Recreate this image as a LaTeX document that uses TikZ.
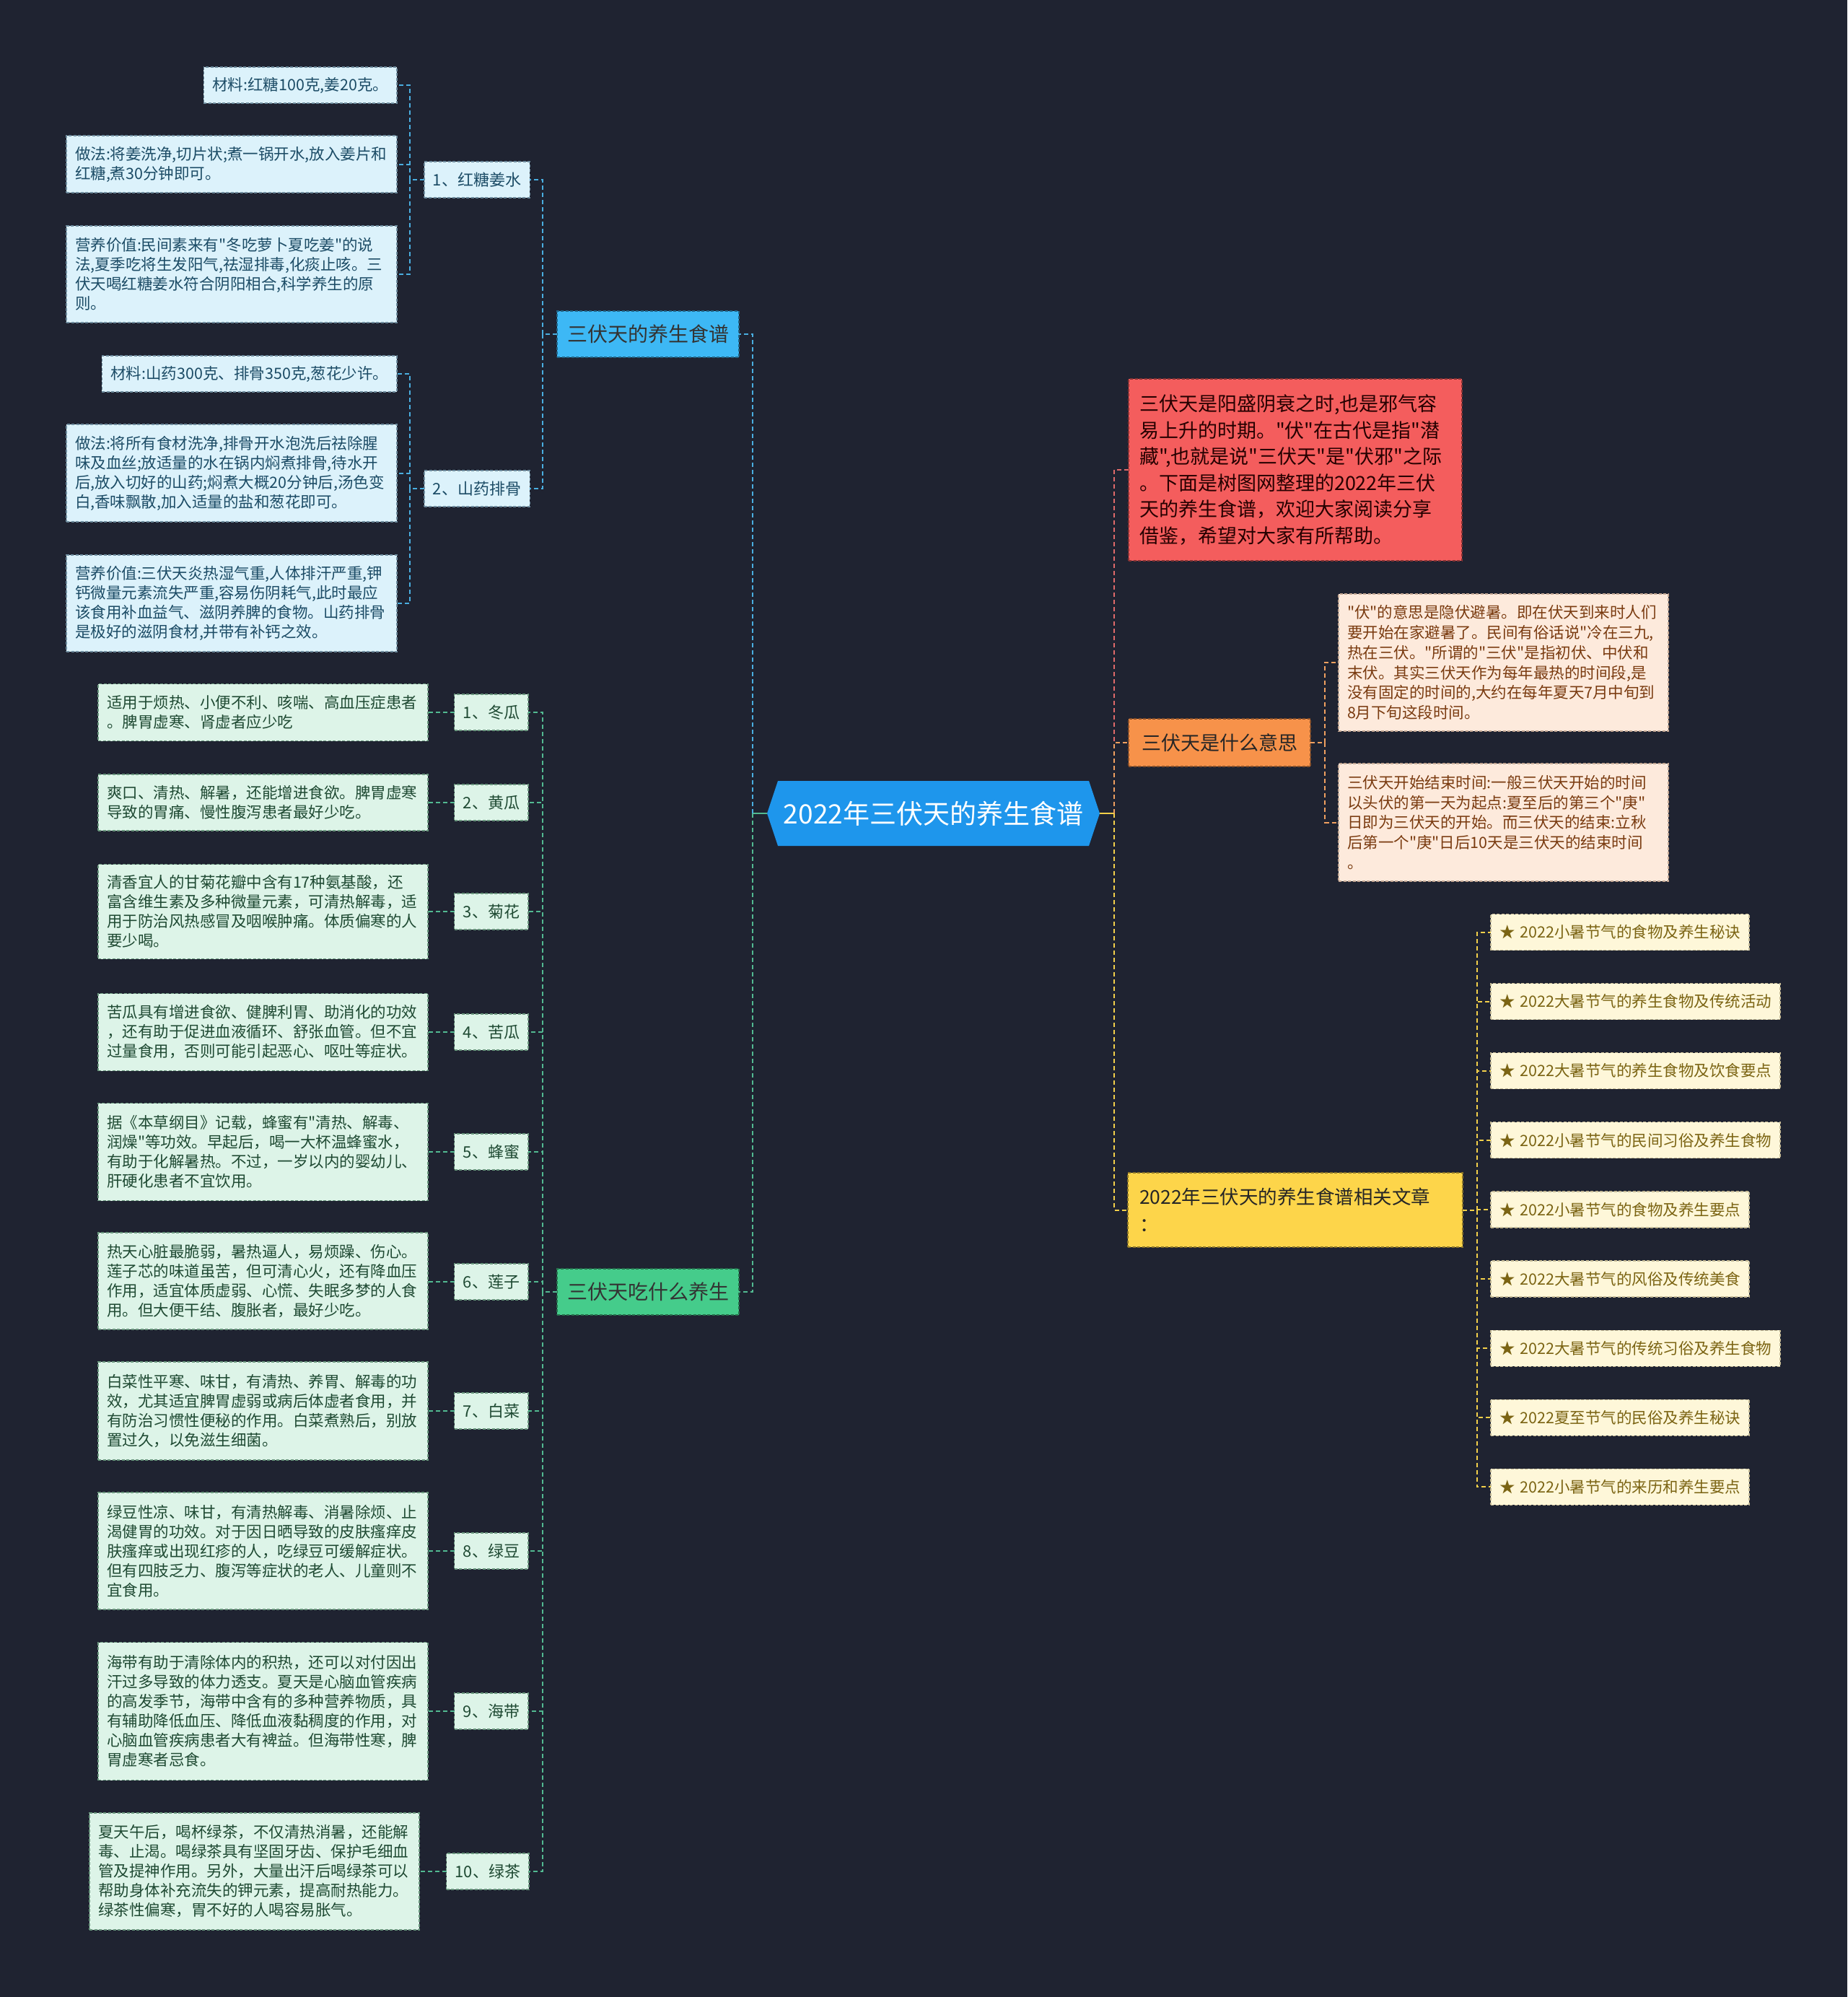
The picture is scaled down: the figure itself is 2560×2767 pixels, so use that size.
\documentclass[tikz,border=0pt]{standalone}
\usepackage{fontspec}
\setmainfont{Noto Sans CJK SC}[Ligatures=TeXOff]
\usetikzlibrary{positioning,backgrounds}
\definecolor{bgdark}{RGB}{31,35,49}
\definecolor{rootblue}{RGB}{30,150,236}
\definecolor{catblue}{RGB}{61,184,245}
\definecolor{leafblue}{RGB}{220,242,251}
\definecolor{leafbluetext}{RGB}{28,76,102}
\definecolor{leafblueline}{RGB}{110,140,158}
\definecolor{linkblue}{RGB}{74,174,224}
\definecolor{catgreen}{RGB}{69,204,139}
\definecolor{leafgreen}{RGB}{221,244,232}
\definecolor{leafgreentext}{RGB}{31,74,51}
\definecolor{leafgreenline}{RGB}{105,150,125}
\definecolor{linkgreen}{RGB}{82,185,145}
\definecolor{introred}{RGB}{244,93,93}
\definecolor{linkred}{RGB}{224,106,106}
\definecolor{meaningorange}{RGB}{247,146,74}
\definecolor{linkorange}{RGB}{240,160,96}
\definecolor{peach}{RGB}{253,234,220}
\definecolor{peachtext}{RGB}{122,59,16}
\definecolor{relatedyellow}{RGB}{253,213,74}
\definecolor{linkyellow}{RGB}{243,208,74}
\definecolor{cream}{RGB}{254,247,217}
\definecolor{creamtext}{RGB}{123,100,19}
\newcommand{\leaffont}{\fontsize{21.5}{27}\selectfont}
\newcommand{\branchfont}{\fontsize{27}{36.5}\selectfont}
\tikzset{
  basebox/.style={rectangle,outer sep=0pt,inner xsep=12pt,inner ysep=0pt,align=left,
    line width=1.2pt,dash pattern=on 4pt off 2.5pt},
  rootnode/.style={rectangle,outer sep=0pt,minimum width=461,minimum height=90,
    text=white,font=\fontsize{37}{44}\selectfont},
  catbluebox/.style={basebox,fill=catblue,draw=catblue!55!black,text=black!80,align=center,
    minimum width=252,minimum height=64,font=\fontsize{28}{34}\selectfont},
  catgreenbox/.style={basebox,fill=catgreen,draw=catgreen!55!black,text=black!80,align=center,
    minimum width=252,minimum height=64,font=\fontsize{28}{34}\selectfont},
  subbluebox/.style={basebox,fill=leafblue,draw=leafblueline,text=leafbluetext,align=center,
    minimum width=144,minimum height=50,font=\fontsize{22}{27}\selectfont},
  subgreenbox/.style={basebox,fill=leafgreen,draw=leafgreenline,text=leafgreentext,align=center,
    anchor=east,minimum width=100,minimum height=50,font=\fontsize{22}{27}\selectfont},
  leafbluebox/.style={basebox,fill=leafblue,draw=leafblueline,text=leafbluetext,anchor=east,font=\leaffont},
  leafgreenbox/.style={basebox,fill=leafgreen,draw=leafgreenline,text=leafgreentext,anchor=east,
    text width=433pt,font=\leaffont},
  introbox/.style={basebox,fill=introred,draw=introred!55!black,text=black!85!red,anchor=west,
    inner xsep=15pt,text width=432pt,minimum height=252,font=\branchfont},
  meaningbox/.style={basebox,fill=meaningorange,draw=meaningorange!55!black,text=black!85,align=center,
    minimum width=252,minimum height=66,font=\branchfont},
  peachbox/.style={basebox,fill=peach,draw=peachtext!45,text=peachtext,anchor=west,
    text width=433pt,font=\fontsize{21.5}{27.7}\selectfont},
  relatedbox/.style={basebox,fill=relatedyellow,draw=relatedyellow!55!black,text=black!85,anchor=west,
    inner xsep=16pt,text width=432pt,minimum height=103,font=\fontsize{26.5}{38}\selectfont},
  articlebox/.style={basebox,fill=cream,draw=creamtext!45,text=creamtext,anchor=west,
    minimum height=50,font=\fontsize{21.5}{27}\selectfont},
  bluelink/.style={draw=linkblue,line width=2pt,dash pattern=on 6pt off 4pt},
  greenlink/.style={draw=linkgreen,line width=2pt,dash pattern=on 6pt off 4pt},
  redlink/.style={draw=linkred,line width=2pt,dash pattern=on 6pt off 4pt},
  orangelink/.style={draw=linkorange,line width=2pt,dash pattern=on 6pt off 4pt},
  yellowlink/.style={draw=linkyellow,line width=2pt,dash pattern=on 6pt off 4pt}
}

\begin{document}
\begin{tikzpicture}[x=1pt,y=-1pt]
  \useasboundingbox (0,0) rectangle (2560,2767);
  \begin{scope}[on background layer]
    \fill[bgdark] (0,0) rectangle (2560,2767);
  \end{scope}

  % centre topic
  \node[rootnode] (root) at (1293.5,1127) {2022年三伏天的养生食谱};
  \begin{scope}[on background layer]
    \fill[rootblue] (root.west) -- ([xshift=15pt]root.north west) -- ([xshift=-15pt]root.north east)
      -- (root.east) -- ([xshift=-15pt]root.south east) -- ([xshift=15pt]root.south west) -- cycle;
  \end{scope}

  % left: recipes
  \node[catbluebox] (recipes) at (898,463) {三伏天的养生食谱};
  \node[subbluebox] (ginger) at (661,249) {1、红糖姜水};
  \node[subbluebox] (yam) at (661,677) {2、山药排骨};

  \node[leafbluebox,minimum height=50] (gingerA) at (550,118) {材料:红糖100克,姜20克。};
  \node[leafbluebox,text width=434pt,minimum height=79] (gingerB) at (550,227.5)
    {做法:将姜洗净,切片状;煮一锅开水,放入姜片和\\红糖,煮30分钟即可。};
  \node[leafbluebox,text width=434pt,minimum height=134] (gingerC) at (550,380)
    {营养价值:民间素来有"冬吃萝卜夏吃姜"的说\\法,夏季吃将生发阳气,祛湿排毒,化痰止咳。三\\伏天喝红糖姜水符合阴阳相合,科学养生的原\\则。};
  \node[leafbluebox,minimum height=50] (yamA) at (550,518) {材料:山药300克、排骨350克,葱花少许。};
  \node[leafbluebox,text width=434pt,minimum height=135] (yamB) at (550,655.5)
    {做法:将所有食材洗净,排骨开水泡洗后祛除腥\\味及血丝;放适量的水在锅内焖煮排骨,待水开\\后,放入切好的山药;焖煮大概20分钟后,汤色变\\白,香味飘散,加入适量的盐和葱花即可。};
  \node[leafbluebox,text width=434pt,minimum height=134] (yamC) at (550,836)
    {营养价值:三伏天炎热湿气重,人体排汗严重,钾\\钙微量元素流失严重,容易伤阴耗气,此时最应\\该食用补血益气、滋阴养脾的食物。山药排骨\\是极好的滋阴食材,并带有补钙之效。};

  % left: what to eat
  \node[catgreenbox] (eatwhat) at (898,1790) {三伏天吃什么养生};
  \node[subgreenbox] (foodA) at (732,987) {1、冬瓜};
  \node[subgreenbox] (foodB) at (732,1112) {2、黄瓜};
  \node[subgreenbox] (foodC) at (732,1263) {3、菊花};
  \node[subgreenbox] (foodD) at (732,1430) {4、苦瓜};
  \node[subgreenbox] (foodE) at (732,1596) {5、蜂蜜};
  \node[subgreenbox] (foodF) at (732,1776) {6、莲子};
  \node[subgreenbox] (foodG) at (732,1955) {7、白菜};
  \node[subgreenbox] (foodH) at (732,2149) {8、绿豆};
  \node[subgreenbox] (foodI) at (732,2371) {9、海带};
  \node[subgreenbox,minimum width=114] (foodJ) at (733,2593) {10、绿茶};

  \node[leafgreenbox,minimum height=79] (noteA) at (593,987)
    {适用于烦热、小便不利、咳喘、高血压症患者\\。脾胃虚寒、肾虚者应少吃};
  \node[leafgreenbox,minimum height=78] (noteB) at (593,1112)
    {爽口、清热、解暑，还能增进食欲。脾胃虚寒\\导致的胃痛、慢性腹泻患者最好少吃。};
  \node[leafgreenbox,minimum height=131] (noteC) at (593,1263)
    {清香宜人的甘菊花瓣中含有17种氨基酸，还\\富含维生素及多种微量元素，可清热解毒，适\\用于防治风热感冒及咽喉肿痛。体质偏寒的人\\要少喝。};
  \node[leafgreenbox,minimum height=107] (noteD) at (593,1430)
    {苦瓜具有增进食欲、健脾利胃、助消化的功效\\，还有助于促进血液循环、舒张血管。但不宜\\过量食用，否则可能引起恶心、呕吐等症状。};
  \node[leafgreenbox,minimum height=135] (noteE) at (593,1596)
    {据《本草纲目》记载，蜂蜜有"清热、解毒、\\润燥"等功效。早起后，喝一大杯温蜂蜜水，\\有助于化解暑热。不过，一岁以内的婴幼儿、\\肝硬化患者不宜饮用。};
  \node[leafgreenbox,minimum height=134] (noteF) at (593,1775)
    {热天心脏最脆弱，暑热逼人，易烦躁、伤心。\\莲子芯的味道虽苦，但可清心火，还有降血压\\作用，适宜体质虚弱、心慌、失眠多梦的人食\\用。但大便干结、腹胀者，最好少吃。};
  \node[leafgreenbox,minimum height=136] (noteG) at (593,1955)
    {白菜性平寒、味甘，有清热、养胃、解毒的功\\效，尤其适宜脾胃虚弱或病后体虚者食用，并\\有防治习惯性便秘的作用。白菜煮熟后，别放\\置过久，以免滋生细菌。};
  \node[leafgreenbox,minimum height=162] (noteH) at (593,2149)
    {绿豆性凉、味甘，有清热解毒、消暑除烦、止\\渴健胃的功效。对于因日晒导致的皮肤瘙痒皮\\肤瘙痒或出现红疹的人，吃绿豆可缓解症状。\\但有四肢乏力、腹泻等症状的老人、儿童则不\\宜食用。};
  \node[leafgreenbox,minimum height=191] (noteI) at (593,2371)
    {海带有助于清除体内的积热，还可以对付因出\\汗过多导致的体力透支。夏天是心脑血管疾病\\的高发季节，海带中含有的多种营养物质，具\\有辅助降低血压、降低血液黏稠度的作用，对\\心脑血管疾病患者大有裨益。但海带性寒，脾\\胃虚寒者忌食。};
  \node[leafgreenbox,minimum height=162] (noteJ) at (581,2593)
    {夏天午后，喝杯绿茶，不仅清热消暑，还能解\\毒、止渴。喝绿茶具有坚固牙齿、保护毛细血\\管及提神作用。另外，大量出汗后喝绿茶可以\\帮助身体补充流失的钾元素，提高耐热能力。\\绿茶性偏寒，胃不好的人喝容易胀气。};

  % right: intro, meaning, related articles
  \node[introbox] (intro) at (1564,651)
    {三伏天是阳盛阴衰之时,也是邪气容\\易上升的时期。"伏"在古代是指"潜\\藏",也就是说"三伏天"是"伏邪"之际\\。下面是树图网整理的2022年三伏\\天的养生食谱，欢迎大家阅读分享\\借鉴，希望对大家有所帮助。};
  \node[meaningbox] (meaning) at (1690,1029) {三伏天是什么意思};
  \node[peachbox,minimum height=190] (fuSense) at (1855,918)
    {"伏"的意思是隐伏避暑。即在伏天到来时人们\\要开始在家避暑了。民间有俗话说"冷在三九,\\热在三伏。"所谓的"三伏"是指初伏、中伏和\\末伏。其实三伏天作为每年最热的时间段,是\\没有固定的时间的,大约在每年夏天7月中旬到\\8月下旬这段时间。};
  \node[peachbox,minimum height=163] (fuTime) at (1855,1139.5)
    {三伏天开始结束时间:一般三伏天开始的时间\\以头伏的第一天为起点:夏至后的第三个"庚"\\日即为三伏天的开始。而三伏天的结束:立秋\\后第一个"庚"日后10天是三伏天的结束时间\\。};
  \node[relatedbox] (related) at (1563,1676.5) {2022年三伏天的养生食谱相关文章\\：};

  \node[articlebox,text width=334pt] (artA) at (2066,1291.5) {★~2022小暑节气的食物及养生秘诀};
  \node[articlebox,text width=377pt] (artB) at (2066,1387.6) {★~2022大暑节气的养生食物及传统活动};
  \node[articlebox,text width=377pt] (artC) at (2066,1483.7) {★~2022大暑节气的养生食物及饮食要点};
  \node[articlebox,text width=377pt] (artD) at (2066,1579.8) {★~2022小暑节气的民间习俗及养生食物};
  \node[articlebox,text width=334pt] (artE) at (2066,1675.9) {★~2022小暑节气的食物及养生要点};
  \node[articlebox,text width=334pt] (artF) at (2066,1772.0) {★~2022大暑节气的风俗及传统美食};
  \node[articlebox,text width=377pt] (artG) at (2066,1868.1) {★~2022大暑节气的传统习俗及养生食物};
  \node[articlebox,text width=334pt] (artH) at (2066,1964.2) {★~2022夏至节气的民俗及养生秘诀};
  \node[articlebox,text width=334pt] (artI) at (2066,2060.3) {★~2022小暑节气的来历和养生要点};

  % connectors
  \draw[greenlink,solid] (root.west) -- ++(-20,0) coordinate (lhub);
  \draw[bluelink] (lhub) |- (recipes.east);
  \draw[greenlink] (lhub) |- (eatwhat.east);
  \draw[bluelink] (recipes.west) -- ++(-20,0) |- (ginger.east);
  \draw[bluelink] (recipes.west) -- ++(-20,0) |- (yam.east);
  \draw[bluelink] (ginger.west) -- ++(-20,0) |- (gingerA.east);
  \draw[bluelink] (ginger.west) -- ++(-20,0) |- (gingerB.east);
  \draw[bluelink] (ginger.west) -- ++(-20,0) |- (gingerC.east);
  \draw[bluelink] (yam.west) -- ++(-20,0) |- (yamA.east);
  \draw[bluelink] (yam.west) -- ++(-20,0) |- (yamB.east);
  \draw[bluelink] (yam.west) -- ++(-20,0) |- (yamC.east);

  \draw[greenlink] (eatwhat.west) -- ++(-20,0) |- (foodA.east);
  \draw[greenlink] (eatwhat.west) -- ++(-20,0) |- (foodB.east);
  \draw[greenlink] (eatwhat.west) -- ++(-20,0) |- (foodC.east);
  \draw[greenlink] (eatwhat.west) -- ++(-20,0) |- (foodD.east);
  \draw[greenlink] (eatwhat.west) -- ++(-20,0) |- (foodE.east);
  \draw[greenlink] (eatwhat.west) -- ++(-20,0) |- (foodF.east);
  \draw[greenlink] (eatwhat.west) -- ++(-20,0) |- (foodG.east);
  \draw[greenlink] (eatwhat.west) -- ++(-20,0) |- (foodH.east);
  \draw[greenlink] (eatwhat.west) -- ++(-20,0) |- (foodI.east);
  \draw[greenlink] (eatwhat.west) -- ++(-20,0) |- (foodJ.east);
  \draw[greenlink] (foodA) -- (noteA); \draw[greenlink] (foodB) -- (noteB);
  \draw[greenlink] (foodC) -- (noteC); \draw[greenlink] (foodD) -- (noteD);
  \draw[greenlink] (foodE) -- (noteE); \draw[greenlink] (foodF.west) -- (noteF.east |- foodF.west);
  \draw[greenlink] (foodG) -- (noteG); \draw[greenlink] (foodH) -- (noteH);
  \draw[greenlink] (foodI) -- (noteI); \draw[greenlink] (foodJ) -- (noteJ);

  \draw[yellowlink,solid] (root.east) -- ++(20,0) coordinate (rhub);
  \draw[redlink] (rhub) |- (intro.west);
  \draw[orangelink] (rhub) |- (meaning.west);
  \draw[yellowlink] (rhub) |- (related.west);
  \draw[orangelink] (meaning.east) -- ++(20,0) |- (fuSense.west);
  \draw[orangelink] (meaning.east) -- ++(20,0) |- (fuTime.west);
  \draw[yellowlink] (related.east) -- ++(20,0) |- (artA.west);
  \draw[yellowlink] (related.east) -- ++(20,0) |- (artB.west);
  \draw[yellowlink] (related.east) -- ++(20,0) |- (artC.west);
  \draw[yellowlink] (related.east) -- ++(20,0) |- (artD.west);
  \draw[yellowlink] (related.east) -- ++(20,0) |- (artE.west);
  \draw[yellowlink] (related.east) -- ++(20,0) |- (artF.west);
  \draw[yellowlink] (related.east) -- ++(20,0) |- (artG.west);
  \draw[yellowlink] (related.east) -- ++(20,0) |- (artH.west);
  \draw[yellowlink] (related.east) -- ++(20,0) |- (artI.west);
\end{tikzpicture}
\end{document}
